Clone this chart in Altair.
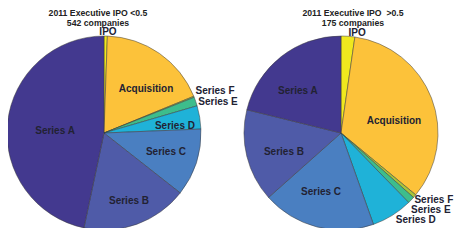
import altair as alt
import pandas as pd

# ---- data ----
pies = ["lt", "gt"]
categories = ["IPO", "Acquisition", "Series F", "Series E",
              "Series D", "Series C", "Series B", "Series A"]
counts_lt = [3, 99, 1, 8, 21, 61, 96, 253]      # 542 companies
counts_gt = [4, 59, 1, 2, 12, 33, 27, 37]       # 175 companies
title1 = ["2011 Executive IPO <0.5", "2011 Executive IPO\u00a0 >0.5"]
title2 = ["542 companies", "175 companies"]
# label placement (fraction of full turn, fraction of pie radius)
lab_turn_lt = [0.0063, 0.1214, 0.1925, 0.2077, 0.2344, 0.2972, 0.4439, 0.7565]
lab_rad_lt = [1.04, 0.627, 1.224, 1.218, 0.735, 0.668, 0.747, 0.505]
lab_turn_gt = [0.0253, 0.2145, 0.3494, 0.3628, 0.3867, 0.552, 0.699, 0.873]
lab_rad_gt = [1.044, 0.56, 1.18, 1.22, 1.18, 0.642, 0.62, 0.62]

colors = ["#f0e81e", "#fcc23a", "#a8c43a", "#3dbd8c",
          "#1fb2d8", "#4a7fc1", "#4f5ba8", "#43398f"]

rows = []
for pie, cnts, turns, rads in [("lt", counts_lt, lab_turn_lt, lab_rad_lt),
                               ("gt", counts_gt, lab_turn_gt, lab_rad_gt)]:
    for i, c in enumerate(categories):
        rows.append({"pie": pie, "category": c, "order": i, "count": cnts[i],
                     "lt": turns[i], "lr": rads[i]})
df = pd.DataFrame(rows)
tdf = pd.DataFrame({"pie": pies, "t1": title1, "t2": title2})

R = 97
xenc = alt.X("pie:N", axis=None,
             scale=alt.Scale(type="point", domain=pies, padding=0.405))
theta_scale = alt.Scale(domain=[0, 1], range=[0, 6.283185307179586])
rad_scale = alt.Scale(type="linear", domain=[0, 1], range=[0, R])

base = alt.Chart(df)

arcs = base.transform_stack(
    stack="count", groupby=["pie"], as_=["s0", "s1"], offset="normalize",
    sort=[alt.SortField("order", order="ascending")]
).mark_arc(outerRadius=R, stroke="#3a3a3a", strokeWidth=0.5).encode(
    x=xenc,
    theta=alt.Theta("s0:Q", scale=theta_scale, stack=None),
    theta2="s1:Q",
    color=alt.Color("category:N", scale=alt.Scale(domain=categories, range=colors),
                    legend=None),
)

labels = base.mark_text(font="Liberation Sans", fontWeight="bold", fontSize=10,
                        color="#222233", align="center", baseline="middle").encode(
    x=xenc,
    theta=alt.Theta("lt:Q", scale=theta_scale, stack=None),
    radius=alt.Radius("lr:Q", scale=rad_scale),
    text="category:N",
)

def title_layer(pie, dx):
    t = alt.Chart(tdf).transform_filter(alt.datum.pie == pie)
    l1 = t.mark_text(font="Liberation Sans", fontWeight="bold", fontSize=8.7,
                     color="#222222", dx=dx).encode(x=xenc, y=alt.value(-25), text="t1:N")
    l2 = t.mark_text(font="Liberation Sans", fontWeight="bold", fontSize=8.7,
                     color="#222222", dx=dx).encode(x=xenc, y=alt.value(-15.5), text="t2:N")
    return l1 + l2

chart = alt.layer(arcs, labels, title_layer("lt", -6), title_layer("gt", 12)).properties(
    width=429, height=190,
    autosize=alt.AutoSizeParams(type="none"),
    padding={"left": 0, "top": 30, "right": 17, "bottom": 0},
).configure_view(stroke=None)

chart.save("out.html", embed_options={"renderer": "svg", "actions": False})
